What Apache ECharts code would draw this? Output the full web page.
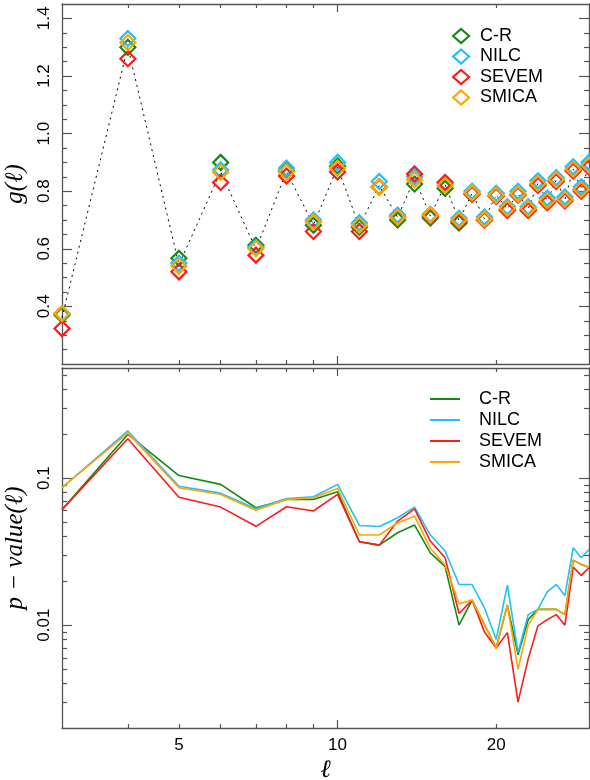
<!DOCTYPE html>
<html><head><meta charset="utf-8">
<script src="https://cdn.jsdelivr.net/npm/echarts@6/dist/echarts.min.js"></script>
<style>html,body{margin:0;padding:0;background:#fff}#c{width:590px;height:780px}</style>
</head><body><div id="c"></div>
<script>
// multipole
const ell = [3,4,5,6,7,8,9,10,11,12,13,14,15,16,17,18,19,20,21,22,23,24,25,26,27,28,29,30];
// g(l)
const gCR    = [0.370,1.300,0.567,0.900,0.612,0.870,0.682,0.887,0.675,0.815,0.700,0.825,0.707,0.810,0.690,0.790,0.700,0.783,0.735,0.788,0.735,0.824,0.765,0.836,0.770,0.873,0.806,0.887];
const gNILC  = [0.375,1.330,0.550,0.874,0.605,0.880,0.700,0.900,0.690,0.834,0.717,0.850,0.720,0.830,0.706,0.800,0.710,0.793,0.746,0.800,0.746,0.836,0.776,0.847,0.780,0.885,0.815,0.900];
const gSEVEM = [0.323,1.260,0.520,0.830,0.578,0.853,0.660,0.867,0.660,0.815,0.710,0.860,0.713,0.830,0.696,0.790,0.700,0.783,0.733,0.787,0.733,0.820,0.760,0.834,0.766,0.870,0.800,0.883];
const gSMICA = [0.375,1.316,0.540,0.866,0.600,0.867,0.693,0.880,0.682,0.815,0.710,0.840,0.717,0.820,0.700,0.794,0.703,0.786,0.740,0.790,0.740,0.827,0.767,0.840,0.771,0.876,0.806,0.890];
// p-value(l)
const pCR    = [0.061,0.198,0.104,0.0906,0.0628,0.0716,0.0716,0.0807,0.0369,0.035,0.0425,0.0479,0.031,0.025,0.010,0.0148,0.0101,0.0070,0.0137,0.0063,0.0109,0.0128,0.0128,0.0128,0.0118,0.0277,0.0259,0.0248];
const pNILC  = [0.086,0.209,0.088,0.079,0.0618,0.0727,0.0746,0.0906,0.0476,0.0469,0.0537,0.0635,0.041,0.0319,0.0189,0.0189,0.0131,0.0080,0.0187,0.0065,0.0118,0.0128,0.0169,0.0189,0.0159,0.0336,0.0287,0.0327];
const pSEVEM = [0.061,0.185,0.074,0.0635,0.047,0.0638,0.0597,0.0774,0.0369,0.035,0.051,0.0618,0.0373,0.0287,0.012,0.0148,0.0090,0.0070,0.0089,0.0030,0.0059,0.0099,0.0109,0.0118,0.0100,0.0248,0.0218,0.0245];
const pSMICA = [0.086,0.203,0.086,0.0774,0.0605,0.0716,0.0735,0.085,0.041,0.041,0.0497,0.0551,0.0333,0.0256,0.014,0.0148,0.0101,0.0070,0.0137,0.0050,0.00996,0.0128,0.0128,0.0128,0.0118,0.0277,0.0259,0.0248];

const names = ['C-R','NILC','SEVEM','SMICA'];
const colors = ['#138a13','#1ec0ff','#ff1a1a','#ffa500'];

// ticks
const xMinorTicks = [4,5,6,7,8,9,20];
const xMajorTicks = [10];
const xLabelVals = [5,10,20];
const gMajorTicks = [0.4,0.6,0.8,1.0,1.2,1.4];
const gMinorTicks = [0.25,0.3,0.35,0.45,0.5,0.55,0.65,0.7,0.75,0.85,0.9,0.95,1.05,1.1,1.15,1.25,1.3,1.35];
const pMajorTicks = [0.01,0.1];
const pMinorTicks = [0.003,0.004,0.005,0.006,0.007,0.008,0.009,0.02,0.03,0.04,0.05,0.06,0.07,0.08,0.09,0.2,0.3,0.4,0.5];

const gData = [gCR,gNILC,gSEVEM,gSMICA];
const pData = [pCR,pNILC,pSEVEM,pSMICA];
const gMean = ell.map((l,i)=> (gCR[i]+gNILC[i]+gSEVEM[i]+gSMICA[i])/4);

const axCol = '#555';
const lblFont = {fontFamily:'Liberation Sans', fontSize:17, color:'#000'};

function xAx(grid, pos, vals, len, showLine, labels, extra) {
  return Object.assign({
    type:'log', logBase:10, min:3, max:30, gridIndex:grid, position:pos,
    axisLine:{show:showLine, onZero:false, lineStyle:{color:axCol, width:1.3}},
    axisTick:{show:true, inside:true, length:len, customValues:vals, lineStyle:{color:axCol, width:1.2}},
    axisLabel: labels ? Object.assign({show:true, customValues:labels, margin:9}, lblFont) : {show:false},
    splitLine:{show:false}, minorTick:{show:false}
  }, extra||{});
}
function yAx(grid, pos, type, min, max, vals, len, showLine, labels, fmt, extra) {
  const o = {
    type:type, min:min, max:max, gridIndex:grid, position:pos,
    axisLine:{show:showLine, onZero:false, lineStyle:{color:axCol, width:1.3}},
    axisTick:{show:true, inside:true, length:len, customValues:vals, lineStyle:{color:axCol, width:1.2}},
    axisLabel: labels ? Object.assign({show:true, customValues:labels, rotate:90, margin:9, formatter:fmt}, lblFont) : {show:false},
    splitLine:{show:false}, minorTick:{show:false}
  };
  if (type==='log') o.logBase = 10;
  return Object.assign(o, extra||{});
}

const mathName = {fontFamily:'Liberation Serif', fontStyle:'italic', fontSize:25, color:'#000'};

const xAxis = [
  xAx(0,'bottom',xMinorTicks,4,true,null),
  xAx(0,'bottom',xMajorTicks,8,false,null),
  xAx(0,'top',xMinorTicks,4,true,null),
  xAx(0,'top',xMajorTicks,8,false,null),
  xAx(1,'bottom',xMinorTicks,4,true,xLabelVals,{name:'ℓ', nameLocation:'middle', nameGap:30, nameTextStyle:mathName}),
  xAx(1,'bottom',xMajorTicks,8,false,null),
  xAx(1,'top',xMinorTicks,4,true,null),
  xAx(1,'top',xMajorTicks,8,false,null)
];
const gFmt = v => Number(v).toFixed(1);
const pFmt = v => (Number(v) >= 0.1 ? '0.1' : '0.01');
const yAxis = [
  yAx(0,'left','value',0.2,1.45,gMinorTicks,5,true,gMajorTicks,gFmt,{name:'g(ℓ)', nameLocation:'middle', nameGap:30, nameTextStyle:mathName}),
  yAx(0,'left','value',0.2,1.45,gMajorTicks,10,false,null),
  yAx(0,'right','value',0.2,1.45,gMinorTicks,5,true,null),
  yAx(0,'right','value',0.2,1.45,gMajorTicks,10,false,null),
  yAx(1,'left','log',0.002,0.56,pMinorTicks,5,true,pMajorTicks,pFmt,{name:'p − value(ℓ)', nameLocation:'middle', nameGap:30, nameTextStyle:mathName}),
  yAx(1,'left','log',0.002,0.56,pMajorTicks,10,false,null),
  yAx(1,'right','log',0.002,0.56,pMinorTicks,5,true,null),
  yAx(1,'right','log',0.002,0.56,pMajorTicks,10,false,null)
];

const series = [];
series.push({
  type:'line', name:'mean', xAxisIndex:0, yAxisIndex:0, symbol:'none', silent:true,
  data: ell.map((l,i)=>[l,gMean[i]]),
  lineStyle:{color:'#000', width:1, type:[2,4]}, z:1
});
names.forEach((n,k)=>{
  series.push({
    type:'scatter', name:n, xAxisIndex:0, yAxisIndex:0, symbol:'diamond', symbolSize:15, clip:true,
    data: ell.map((l,i)=>[l,gData[k][i]]),
    itemStyle:{color:'rgba(0,0,0,0)', borderColor:colors[k], borderWidth:2.2, opacity:1}, z:2+k
  });
});
names.forEach((n,k)=>{
  series.push({
    type:'line', name:'p:'+n, xAxisIndex:4, yAxisIndex:4, symbol:'none', clip:true,
    data: ell.map((l,i)=>[l,pData[k][i]]),
    lineStyle:{color:colors[k], width:1.6}, itemStyle:{color:colors[k]}, z:2+k
  });
});

const chart = echarts.init(document.getElementById('c'), null, {renderer:'canvas'});
chart.setOption({
  animation:false,
  backgroundColor:'#fff',
  grid:[
    {left:62, right:1, top:4, height:360, outerBoundsMode:'none', containLabel:false},
    {left:62, right:1, top:368, height:360, outerBoundsMode:'none', containLabel:false}
  ],
  xAxis, yAxis, series,
  legend:[
    {data:names, orient:'vertical', left:447, top:22, itemWidth:16, itemHeight:14, itemGap:2.5,
     icon:'diamond', selectedMode:false,
     itemStyle:{color:'rgba(0,0,0,0)', borderWidth:2.2},
     textStyle:{fontFamily:'Liberation Sans', fontSize:18, color:'#000', padding:[0,0,0,6]}},
    {data:names.map(n=>'p:'+n), orient:'vertical', left:425, top:385, itemWidth:30, itemHeight:2, itemGap:3,
     icon:'rect', selectedMode:false, formatter: s => s.slice(2),
     textStyle:{fontFamily:'Liberation Sans', fontSize:18, color:'#000', padding:[0,0,0,14]}}
  ]
});
</script></body></html>
